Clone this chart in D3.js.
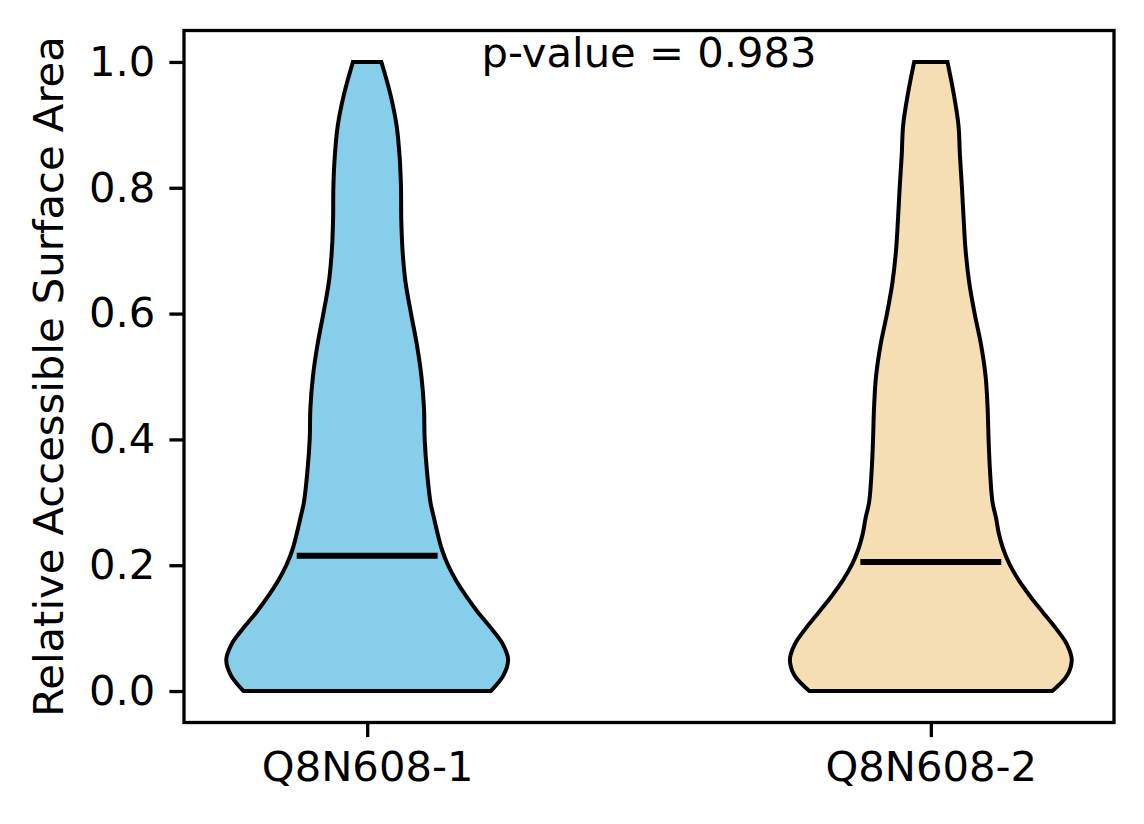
<!DOCTYPE html>
<html>
<head>
<meta charset="utf-8">
<script src="https://cdn.jsdelivr.net/npm/d3@7"></script>
<style>
  body { margin: 0; background: #fff; }
  svg { display: block; font-family: "DejaVu Sans", sans-serif; }
</style>
</head>
<body>
<svg id="chart"></svg>
<script>
// Categories and summary values
const categories = ['Q8N608-1', 'Q8N608-2'];
const medians = [0.215, 0.205];
const pValueText = 'p-value = 0.983';
const yTicks = [0.0, 0.2, 0.4, 0.6, 0.8, 1.0];

// Density profile (relative width) sampled at these RSA levels
const levels = [0, 0.025, 0.05, 0.075, 0.1, 0.125, 0.15, 0.175, 0.2, 0.225, 0.25, 0.275,
    0.3, 0.35, 0.4, 0.45, 0.5, 0.55, 0.6, 0.65, 0.7, 0.75, 0.8, 0.85, 0.9, 0.95, 1.0];
const density1 = [0.877, 0.967, 1.0, 0.961, 0.879, 0.787, 0.705, 0.633, 0.574, 0.530, 0.500, 0.474,
    0.449, 0.424, 0.408, 0.403, 0.385, 0.353, 0.311, 0.272, 0.251, 0.242, 0.240, 0.230, 0.208, 0.163, 0.101];
const density2 = [0.862, 0.968, 1.0, 0.964, 0.886, 0.796, 0.707, 0.627, 0.562, 0.515, 0.483, 0.463,
    0.438, 0.420, 0.410, 0.403, 0.389, 0.357, 0.311, 0.272, 0.247, 0.233, 0.221, 0.207, 0.196, 0.162, 0.118];
const densities = [density1, density2];
const colors = ['#87CEEB', '#F5DEB3'];

// SVG dimensions
const svgWidth = 1144;
const svgHeight = 824;
const plot = { left: 184, right: 1114, top: 30.5, bottom: 722.5 };

const svg = d3.select('#chart')
    .attr('width', svgWidth)
    .attr('height', svgHeight);

// Scales (positions 1 and 2, matplotlib-like margins)
const xScale = d3.scaleLinear()
    .domain([0.675, 2.325])
    .range([plot.left, plot.right]);

const yScale = d3.scaleLinear()
    .domain([-0.05, 1.05])
    .range([plot.bottom, plot.top]);

// violin half-width: max density maps to 0.25 data units
const halfWidth = d3.scaleLinear().domain([0, 1]).range([0, 0.25]);

// Draw violins
categories.forEach((cat, i) => {
    const pos = i + 1;
    const pts = levels.map((v, k) => ({ v: v, w: halfWidth(densities[i][k]) }));

    const area = d3.area()
        .y(d => yScale(d.v))
        .x0(d => xScale(pos - d.w))
        .x1(d => xScale(pos + d.w))
        .curve(d3.curveCatmullRom.alpha(0.5));

    svg.append('path')
        .datum(pts)
        .attr('d', area)
        .attr('fill', colors[i])
        .attr('stroke', '#000')
        .attr('stroke-width', 4)
        .attr('stroke-linejoin', 'miter');

    // median line
    svg.append('line')
        .attr('x1', xScale(pos - 0.125))
        .attr('x2', xScale(pos + 0.125))
        .attr('y1', yScale(medians[i]))
        .attr('y2', yScale(medians[i]))
        .attr('stroke', '#000')
        .attr('stroke-width', 6);
});

// Axes frame
svg.append('rect')
    .attr('x', plot.left)
    .attr('y', plot.top)
    .attr('width', plot.right - plot.left)
    .attr('height', plot.bottom - plot.top)
    .attr('fill', 'none')
    .attr('stroke', '#000')
    .attr('stroke-width', 3.3);

// y-axis
const yAxis = svg.append('g')
    .attr('transform', `translate(${plot.left}, 0)`)
    .call(d3.axisLeft(yScale).tickValues(yTicks).tickFormat(d3.format('.1f'))
        .tickSize(14.6).tickPadding(14));
yAxis.select('.domain').remove();
yAxis.selectAll('.tick line').attr('stroke-width', 3.3);
yAxis.selectAll('.tick text')
    .attr('font-size', 41.7)
    .attr('font-family', '"DejaVu Sans", sans-serif')
    .attr('fill', '#000');

// x-axis
const xAxis = svg.append('g')
    .attr('transform', `translate(0, ${plot.bottom})`)
    .call(d3.axisBottom(xScale).tickValues([1, 2]).tickFormat((d, i) => categories[i])
        .tickSize(14.6).tickPadding(14));
xAxis.select('.domain').remove();
xAxis.selectAll('.tick line').attr('stroke-width', 3.3);
xAxis.selectAll('.tick text')
    .attr('font-size', 41.7)
    .attr('font-family', '"DejaVu Sans", sans-serif')
    .attr('fill', '#000');

// y label
svg.append('text')
    .attr('transform', `translate(63, ${(plot.top + plot.bottom) / 2}) rotate(-90)`)
    .attr('text-anchor', 'middle')
    .attr('font-size', 41.7)
    .text('Relative Accessible Surface Area');

// p-value annotation
svg.append('text')
    .attr('x', xScale(1.5))
    .attr('y', 66.5)
    .attr('text-anchor', 'middle')
    .attr('font-size', 41.7)
    .text(pValueText);
</script>
</body>
</html>
